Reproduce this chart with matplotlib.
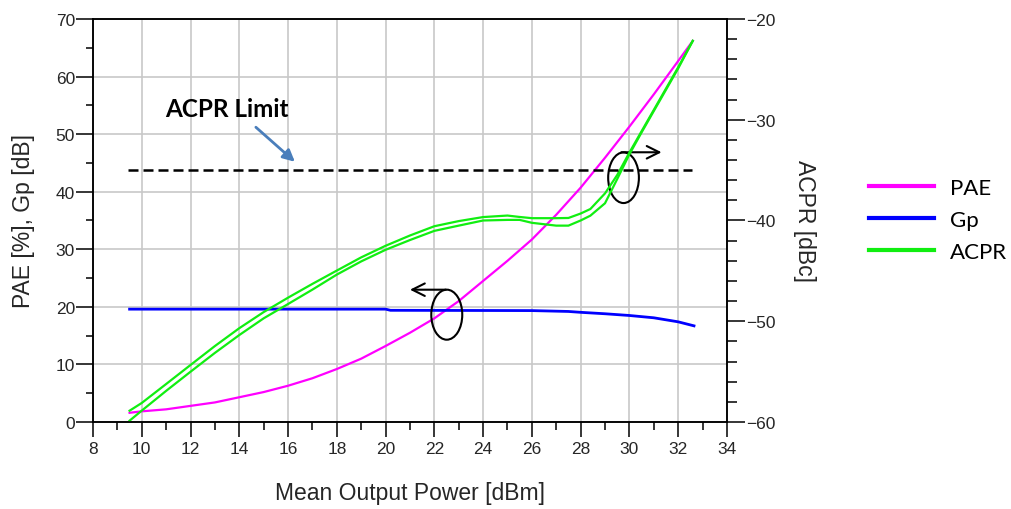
import numpy as np
import matplotlib
matplotlib.use("Agg")
import matplotlib.pyplot as plt
from matplotlib.patches import Ellipse
from matplotlib.ticker import MultipleLocator

plt.rcParams['font.family'] = ['Liberation Sans', 'DejaVu Sans']

# PAE [%]
pae_x = [9.5, 10, 11, 12, 13, 14, 15, 16, 17, 18, 19, 20, 21, 22, 23, 24, 25,
         26, 27, 28, 29, 30, 31, 32, 32.6]
pae = [1.6, 1.85, 2.2, 2.8, 3.4, 4.3, 5.2, 6.3, 7.6, 9.2, 11.0, 13.2, 15.5, 18.0,
       21.0, 24.5, 28.0, 31.7, 36.0, 40.7, 45.9, 51.3, 56.9, 62.7, 66.2]

# Gp [dB]
gp_x = [9.5, 20, 20.2, 26, 27.5, 28, 29, 30, 31, 32, 32.65]
gp = [19.6, 19.6, 19.4, 19.35, 19.2, 19.05, 18.8, 18.5, 18.1, 17.4, 16.7]

# ACPR [dBc], upper and lower adjacent channel
acpr_x = [9.5, 10, 11, 12, 13, 14, 15, 16, 17, 18, 19, 20, 21, 22, 23, 24, 25,
          25.5, 26, 27, 27.5, 28, 28.4, 29, 29.5, 30, 30.5, 31, 31.5, 32, 32.6]
acpr_up = [-58.88, -58.11, -56.23, -54.34, -52.46, -50.69, -49.09, -47.66, -46.29,
           -44.97, -43.66, -42.51, -41.49, -40.57, -40.06, -39.66, -39.51, -39.65,
           -39.77, -39.77, -39.75, -39.31, -38.86, -37.31, -35.49, -33.26, -31.14,
           -29.03, -26.91, -24.80, -22.17]
acpr_lo = [-59.87, -58.87, -56.91, -55.01, -53.14, -51.37, -49.71, -48.29, -46.86,
           -45.37, -44.06, -42.91, -41.94, -41.03, -40.51, -40.0, -39.94, -39.94,
           -40.23, -40.51, -40.51, -40.0, -39.52, -38.29, -35.89, -33.43, -31.26,
           -29.14, -27.03, -24.91, -22.17]

acpr_limit = -35
limit_x = [9.45, 32.55]

txt = '#262626'

fig = plt.figure(figsize=(10.11, 5.10), dpi=100)
ax = fig.add_axes([0.092, 0.1706, 0.627, 0.7902])
ax2 = ax.twinx()

ax.plot(pae_x, pae, color='#ff00ff', lw=1.6, label='PAE', zorder=3)
ax.plot(gp_x, gp, color='#0000ff', lw=2.0, label='Gp', zorder=3)
ax2.plot(acpr_x, acpr_up, color='#11ee11', lw=1.6, label='ACPR')
ax2.plot(acpr_x, acpr_lo, color='#11ee11', lw=1.6)
ax2.hlines(acpr_limit, limit_x[0], limit_x[1], colors='black', lw=1.8,
           linestyles=(0, (4, 2)))

ax.set_xlim(8, 34)
ax.set_ylim(0, 70)
ax2.set_ylim(-60, -20)

ax.xaxis.set_major_locator(MultipleLocator(2))
ax.xaxis.set_minor_locator(MultipleLocator(1))
ax.yaxis.set_major_locator(MultipleLocator(10))
ax.yaxis.set_minor_locator(MultipleLocator(5))
ax2.yaxis.set_major_locator(MultipleLocator(10))
ax2.yaxis.set_minor_locator(MultipleLocator(2))

ax.grid(True, which='major', color='#c8c8c8', lw=1.2)
ax.set_axisbelow(True)

ax.tick_params(axis='x', which='major', length=11, width=1.1, pad=3,
               labelsize=12.5, labelcolor=txt)
ax.tick_params(axis='x', which='minor', length=6, width=1.1)
ax.tick_params(axis='y', which='major', length=12, width=1.1, pad=1,
               labelsize=12.5, labelcolor=txt)
ax.tick_params(axis='y', which='minor', length=5, width=1.1)
ax2.tick_params(axis='y', which='major', length=13, width=1.1, pad=1,
                labelsize=12.5, labelcolor=txt)
ax2.tick_params(axis='y', which='minor', length=7.5, width=1.1)

for a in (ax, ax2):
    for s in a.spines.values():
        s.set_linewidth(1.1)

ax.set_xlabel('Mean Output Power [dBm]', fontsize=16.5, color=txt, va='center')
ax.xaxis.set_label_coords(0.5, -0.174)
ax.set_ylabel('PAE [%], Gp [dB]', fontsize=16.5, color=txt, va='center', ha='center')
ax.yaxis.set_label_coords(-0.109, 0.5)
ax2.set_ylabel('ACPR [dBc]', fontsize=16.5, color=txt, rotation=270,
               va='center', ha='center')
ax2.yaxis.set_label_coords(1.123, 0.5)

# annotations
ax.text(13.49, 54.4, 'ACPR Limit', fontsize=17.5, fontweight='bold',
        family=['Lato', 'DejaVu Sans'], ha='center', va='center')
ax.annotate('', xy=(16.28, 45.2), xytext=(14.68, 51.2),
            arrowprops=dict(arrowstyle='-|>,head_length=0.7,head_width=0.35',
                            color='#4a7ebb', lw=2.0, shrinkA=0, shrinkB=0))

ax.add_patch(Ellipse((22.51, 18.64), 1.27, 8.69, fill=False, ec='black', lw=1.5, zorder=5))
ax.add_patch(Ellipse((29.76, 42.43), 1.26, 8.8, fill=False, ec='black', lw=1.5, zorder=5))
ax.annotate('', xy=(21.0, 22.98), xytext=(22.47, 22.98), zorder=5,
            arrowprops=dict(arrowstyle='->,head_length=0.9,head_width=0.45',
                            color='black', lw=1.5, shrinkA=0, shrinkB=0))
ax.annotate('', xy=(31.32, 46.85), xytext=(29.67, 46.85), zorder=5,
            arrowprops=dict(arrowstyle='->,head_length=0.9,head_width=0.45',
                            color='black', lw=1.5, shrinkA=0, shrinkB=0))

h1, l1 = ax.get_legend_handles_labels()
h2, l2 = ax2.get_legend_handles_labels()
leg = fig.legend(h1 + h2, l1 + l2, loc='center left', bbox_to_anchor=(0.8595, 0.5667),
                 frameon=False, borderpad=0, borderaxespad=0, handlelength=2.93,
                 handletextpad=0.72, labelspacing=0.55,
                 prop={'family': ['Lato', 'DejaVu Sans'], 'size': 16})
for line in leg.get_lines():
    line.set_linewidth(3)

fig.savefig('out.png', dpi=100)
